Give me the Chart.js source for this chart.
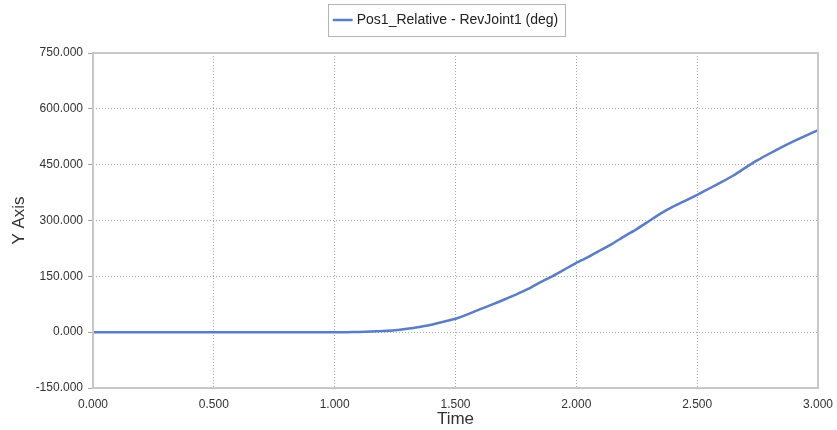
<!DOCTYPE html>
<html>
<head>
<meta charset="utf-8">
<script src="https://cdn.jsdelivr.net/npm/chart.js@4"></script>
<style>
    html, body { margin: 0; padding: 0; background: #fff; }
    #wrap { width: 837px; height: 430px; }
</style>
</head>
<body>
<div id="wrap"><canvas id="chart" width="837" height="430"></canvas></div>
<script>
const seriesLabel = 'Pos1_Relative - RevJoint1 (deg)';
const timeValues = [
    0.00, 0.05, 0.10, 0.15, 0.20, 0.25, 0.30, 0.35, 0.40, 0.45,
    0.50, 0.55, 0.60, 0.65, 0.70, 0.75, 0.80, 0.85, 0.90, 0.95,
    1.00, 1.05, 1.10, 1.15, 1.20, 1.25, 1.30, 1.35, 1.40, 1.45,
    1.50, 1.55, 1.60, 1.65, 1.70, 1.75, 1.80, 1.85, 1.90, 1.95,
    2.00, 2.05, 2.10, 2.15, 2.20, 2.25, 2.30, 2.35, 2.40, 2.45,
    2.50, 2.55, 2.60, 2.65, 2.70, 2.75, 2.80, 2.85, 2.90, 2.95, 3.00
];
const angleValues = [
    0, 0, 0, 0, 0, 0, 0, 0, 0, 0,
    0, 0, 0, 0, 0, 0, 0, 0, 0, 0,
    0, 0, 0.5, 2, 3, 5, 9, 14, 20, 28,
    36, 48, 61, 74, 87, 101, 116, 134, 150, 168,
    186, 202, 220, 238, 258, 277, 298, 319, 337, 353,
    369, 386, 403, 421, 442, 462, 480, 497, 513, 528, 543
];
const yTicks = { min: -150, max: 750, step: 150 };
const xTicks = { min: 0, max: 3, step: 0.5 };

const points = timeValues.map((t, i) => ({ x: t, y: angleValues[i] }));
const fontFamily = 'Liberation Sans, Arial, sans-serif';

// legend: fixed height, nudged right over the plot, with a thin box round it
const legendTweaks = {
    id: 'legendTweaks',
    beforeInit(chart) {
        const legend = chart.legend;
        const origFit = legend.fit;
        legend.fit = function () {
            origFit.call(this);
            this.height = 53;
        };
    },
    afterLayout(chart) {
        chart.legend.left += 38;
        chart.legend.right += 38;
    },
    afterDraw(chart) {
        const ctx = chart.ctx;
        const a = chart.chartArea;
        ctx.save();
        ctx.strokeStyle = '#c8c8c8';
        ctx.lineWidth = 2;
        ctx.strokeRect(Math.round(a.left), Math.round(a.top),
            Math.round(a.right - a.left), Math.round(a.bottom - a.top));
        const hb = chart.legend.legendHitBoxes[0];
        if (hb) {
            const cy = hb.top + hb.height / 2;
            ctx.strokeStyle = '#b4b4b4';
            ctx.lineWidth = 1;
            ctx.strokeRect(Math.round(hb.left) - 7.5, Math.round(cy - 16) + 0.5,
                Math.round(hb.width) + 14, 32);
        }
        ctx.restore();
    }
};

new Chart(document.getElementById('chart'), {
    type: 'line',
    data: {
        datasets: [{
            label: seriesLabel,
            data: points,
            borderColor: '#5a7dc6',
            backgroundColor: '#5a7dc6',
            borderWidth: 2.5,
            pointRadius: 0,
            tension: 0.2,
            fill: false
        }]
    },
    options: {
        responsive: false,
        animation: false,
        layout: { padding: { top: 0, right: 19, bottom: 0, left: 0 } },
        plugins: {
            legend: {
                display: true,
                position: 'top',
                labels: {
                    usePointStyle: true,
                    pointStyle: 'line',
                    boxWidth: 18,
                    padding: 13,
                    color: '#222',
                    font: { family: fontFamily, size: 14 }
                }
            },
            tooltip: { enabled: false }
        },
        scales: {
            x: {
                type: 'linear',
                min: xTicks.min,
                max: xTicks.max,
                afterFit(scale) {
                    scale.height = 42;
                    scale.paddingRight = 0;
                },
                ticks: {
                    stepSize: xTicks.step,
                    maxRotation: 0,
                    padding: 9,
                    color: '#333',
                    font: { family: fontFamily, size: 12 },
                    callback: v => Number(v).toFixed(3)
                },
                grid: { color: '#a8a8a8', lineWidth: 1, drawTicks: false },
                border: { display: false, dash: [1, 2] },
                title: {
                    display: true,
                    text: 'Time',
                    color: '#333',
                    padding: { top: 0, bottom: 0 },
                    font: { family: fontFamily, size: 17 }
                }
            },
            y: {
                min: yTicks.min,
                max: yTicks.max,
                afterFit(scale) { scale.width = 93; },
                ticks: {
                    stepSize: yTicks.step,
                    padding: 5,
                    color: '#333',
                    font: { family: fontFamily, size: 12 },
                    callback: v => Number(v).toFixed(3)
                },
                grid: { color: '#a8a8a8', lineWidth: 1, tickLength: 5 },
                border: { display: false, dash: [1, 2] },
                title: {
                    display: true,
                    text: 'Y Axis',
                    color: '#333',
                    padding: { top: 9, bottom: 0 },
                    font: { family: fontFamily, size: 17 }
                }
            }
        }
    },
    plugins: [legendTweaks]
});
</script>
</body>
</html>
